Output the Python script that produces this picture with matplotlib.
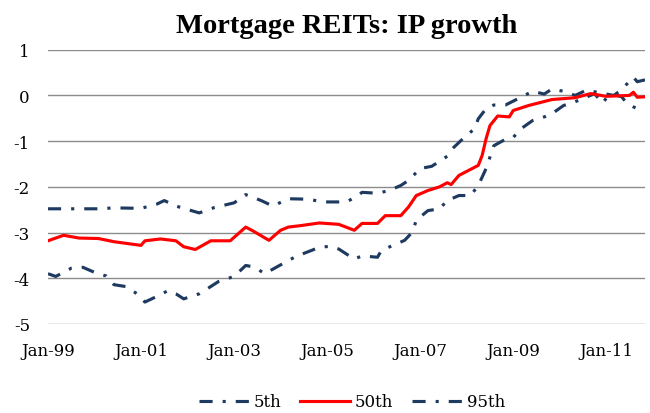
import matplotlib
matplotlib.use("Agg")
import matplotlib.pyplot as plt

# month index: 0 = Jan-1999
tick_months = [0, 24, 48, 72, 96, 120, 144]
tick_labels = ["Jan-99", "Jan-01", "Jan-03", "Jan-05", "Jan-07", "Jan-09", "Jan-11"]

months_50 = [0, 4, 8, 13, 17, 24, 25, 29, 33, 35, 38, 42, 47, 51, 53, 57, 60, 62, 65, 70,
             75, 79, 81, 85, 87, 91, 93, 95, 98, 101, 103, 104, 106, 111, 112, 113, 114, 116,
             119, 120, 124, 130, 136, 140, 144, 150, 151, 152, 154]
p50 = [-3.18, -3.06, -3.12, -3.13, -3.20, -3.28, -3.18, -3.14, -3.18, -3.31, -3.37, -3.18,
       -3.18, -2.88, -2.97, -3.17, -2.95, -2.88, -2.85, -2.79, -2.82, -2.95, -2.80, -2.80,
       -2.63, -2.63, -2.44, -2.19, -2.08, -2.00, -1.91, -1.95, -1.75, -1.53, -1.31, -0.95,
       -0.66, -0.45, -0.47, -0.33, -0.22, -0.09, -0.05, 0.04, -0.02, 0.00, 0.07, -0.04, -0.03]

months_5 = [0, 2, 6, 9, 12, 15, 17, 20, 23, 25, 27, 31, 33, 35, 39, 42, 44, 48, 51, 53, 56,
            58, 61, 64, 68, 70, 73, 75, 77, 79, 81, 85, 86, 89, 92, 94, 95, 98, 101, 103, 106,
            109, 111, 113, 114, 115, 118, 120, 122, 125, 128, 130, 133, 135, 138, 141, 143,
            145, 148, 149, 151, 153]
p5 = [-3.90, -3.96, -3.78, -3.76, -3.87, -3.95, -4.14, -4.18, -4.34, -4.52, -4.44, -4.27,
      -4.34, -4.45, -4.34, -4.18, -4.07, -3.96, -3.72, -3.75, -3.90, -3.80, -3.66, -3.52,
      -3.39, -3.32, -3.30, -3.36, -3.47, -3.58, -3.51, -3.54, -3.39, -3.28, -3.17, -2.99,
      -2.73, -2.52, -2.48, -2.30, -2.19, -2.19, -1.97, -1.60, -1.35, -1.10, -0.96, -0.92,
      -0.73, -0.55, -0.47, -0.40, -0.22, -0.17, -0.07, 0.04, -0.17, 0.04, -0.03, -0.14,
      -0.25, -0.33]

months_95 = [0, 8, 13, 17, 24, 28, 30, 33, 39, 43, 48, 51, 55, 58, 62, 67, 71, 77, 80, 81,
             85, 88, 91, 93, 96, 99, 103, 104, 107, 110, 111, 113, 115, 118, 122, 125, 128,
             130, 133, 136, 139, 142, 146, 148, 151, 152, 154]
p95 = [-2.48, -2.48, -2.48, -2.46, -2.47, -2.38, -2.30, -2.42, -2.57, -2.45, -2.35, -2.17,
       -2.30, -2.42, -2.26, -2.27, -2.33, -2.33, -2.19, -2.12, -2.14, -2.08, -1.97, -1.86,
       -1.60, -1.55, -1.33, -1.19, -0.95, -0.73, -0.51, -0.29, -0.21, -0.21, -0.04, 0.09,
       0.03, 0.14, 0.09, 0.00, 0.12, 0.06, 0.00, 0.13, 0.40, 0.30, 0.34]

navy = "#1F3A60"
red = "#FF0000"
tfont = "DejaVu Serif"
hfont = "Liberation Serif"

fig = plt.figure(figsize=(6.5, 4.14), dpi=100)
ax = fig.add_axes([48 / 650, 1 - 325 / 414, (645 - 48) / 650, (325 - 50.7) / 414])

dash = (0, (4.2, 3.2, 1.0, 3.2))
ax.plot(months_5, p5, color=navy, lw=2.25, linestyle=dash, label="5th", zorder=3)
ax.plot(months_50, p50, color=red, lw=2.25, label="50th", zorder=4)
ax.plot(months_95, p95, color=navy, lw=2.25, linestyle=dash, label="95th", zorder=3)

ax.set_xlim(0, 154)
ax.set_ylim(-5, 1)
ax.set_yticks(range(-5, 2))
ax.set_yticklabels([str(v) for v in range(-5, 2)])
ax.set_xticks(tick_months)
ax.set_xticklabels(tick_labels)
ax.grid(axis="y", color="#8C8C8C", lw=1.0)
ax.set_axisbelow(True)
for s in ax.spines.values():
    s.set_visible(False)
ax.tick_params(axis="both", length=0, labelsize=12, colors="black")
ax.tick_params(axis="x", pad=13)
ax.tick_params(axis="y", pad=13)
for lab in ax.get_xticklabels() + ax.get_yticklabels():
    lab.set_fontfamily(tfont)

ax.set_title("Mortgage REITs: IP growth", fontsize=20.5, fontweight="bold",
             fontfamily=hfont, pad=13)

leg = fig.legend(loc="center", bbox_to_anchor=(352 / 650, 1 - 403 / 414), ncol=3,
                 frameon=False, prop={"family": tfont, "size": 12},
                 handlelength=3.0, handletextpad=0.3, columnspacing=1.1)

fig.savefig("out.png", dpi=100)
